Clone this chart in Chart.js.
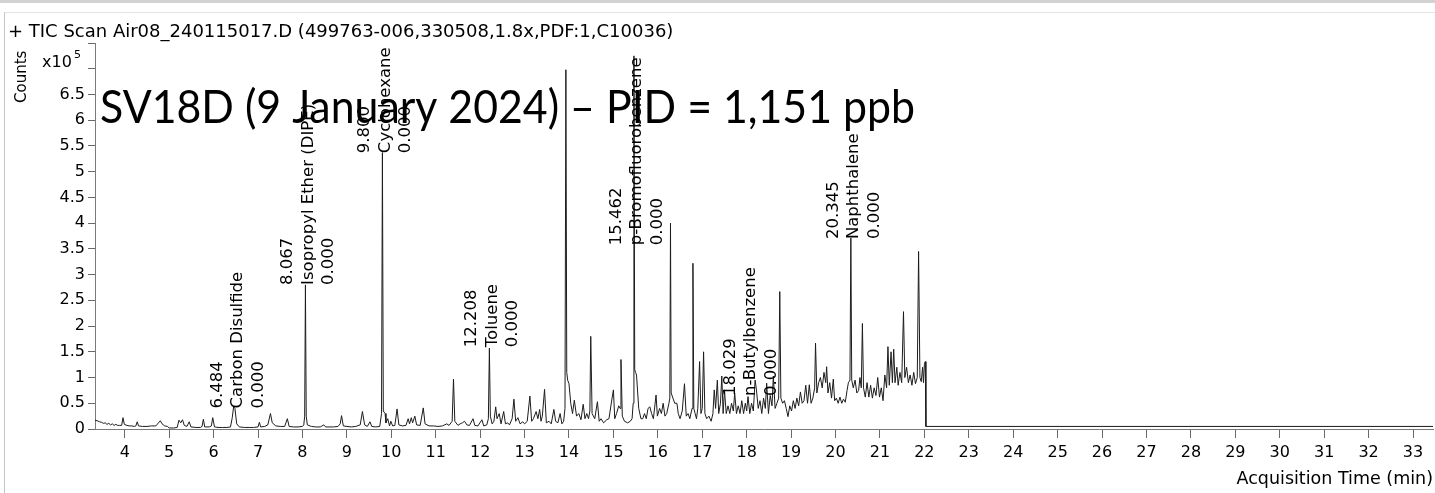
<!DOCTYPE html>
<html>
<head>
<meta charset="utf-8">
<title>TIC Scan Air08_240115017.D</title>
<script src="https://cdn.jsdelivr.net/npm/chart.js@4.4.1/dist/chart.umd.min.js"></script>
<style>
  html, body { margin: 0; padding: 0; background: #fff; }
  #wrap { position: relative; width: 1435px; height: 493px; overflow: hidden; }
  #bandTop { position: absolute; left: 0; top: 0; width: 1435px; height: 3px; background: #d2d2d2; }
  #frame { position: absolute; left: 4px; top: 12px; width: 1440px; height: 490px;
           border-left: 1px solid #c4c4c4; border-top: 1px solid #e2e2e2; }
  #tic { position: absolute; left: 0; top: 0; }
</style>
</head>
<body>
<div id="wrap">
  <div id="bandTop"></div>
  <div id="frame"></div>
  <canvas id="tic" width="1435" height="493"></canvas>
</div>
<script>
// Retention time (min) and TIC counts (x10^5)
const retTime = [
  3.33, 3.38, 3.43, 3.48, 3.52, 3.56, 3.60, 3.64, 3.68, 3.72, 3.76, 3.80, 3.84, 3.88, 3.93, 3.96, 3.99,
  4.05, 4.10, 4.16, 4.22, 4.25, 4.28, 4.31, 4.40, 4.50, 4.60, 4.70, 4.76, 4.80, 4.84, 4.90, 4.96,
  5.00, 5.10, 5.18, 5.22, 5.26, 5.30, 5.34, 5.40, 5.45, 5.49, 5.60, 5.70, 5.74, 5.77, 5.80, 5.90, 5.95, 5.98,
  6.02, 6.10, 6.20, 6.30, 6.38, 6.42, 6.45, 6.48, 6.52, 6.58, 6.70, 6.80, 6.90,
  7.00, 7.03, 7.06, 7.15, 7.22, 7.28, 7.32, 7.40, 7.50, 7.60, 7.66, 7.70, 7.80, 7.90,
  8.00, 8.03, 8.05, 8.067, 8.085, 8.11, 8.20, 8.30, 8.40, 8.48, 8.52, 8.60, 8.70, 8.80, 8.85, 8.88, 8.92,
  9.00, 9.10, 9.20, 9.30, 9.35, 9.40, 9.46, 9.52, 9.56, 9.65, 9.74, 9.78, 9.80, 9.82, 9.86, 9.88, 9.92, 9.96, 9.99,
  10.03, 10.08, 10.13, 10.17, 10.25, 10.33, 10.38, 10.41, 10.45, 10.48, 10.53, 10.57, 10.65, 10.72, 10.76, 10.85, 10.95,
  11.05, 11.15, 11.25, 11.30, 11.37, 11.40, 11.43, 11.50, 11.55, 11.60, 11.65, 11.70, 11.76, 11.84, 11.88, 11.95,
  12.04, 12.08, 12.15, 12.185, 12.208, 12.23, 12.27, 12.31, 12.35, 12.38, 12.43, 12.47, 12.53, 12.57, 12.62, 12.66, 12.72, 12.76, 12.80, 12.85, 12.90, 12.96,
  13.00, 13.06, 13.12, 13.16, 13.20, 13.26, 13.30, 13.34, 13.37, 13.40, 13.45, 13.49, 13.55, 13.60, 13.66, 13.70, 13.75, 13.80, 13.84, 13.88, 13.91, 13.93, 13.95, 13.97,
  14.00, 14.04, 14.08, 14.12, 14.17, 14.22, 14.27, 14.32, 14.36, 14.40, 14.44, 14.47, 14.49, 14.52, 14.58, 14.64, 14.68, 14.72, 14.78, 14.85, 14.90, 14.97,
  15.00, 15.03, 15.07, 15.12, 15.15, 15.17, 15.20, 15.25, 15.32, 15.38, 15.42, 15.445, 15.462, 15.48, 15.50, 15.52, 15.57, 15.62, 15.66, 15.70, 15.74, 15.78, 15.82, 15.86, 15.90, 15.96, 15.99,
  16.04, 16.08, 16.12, 16.16, 16.20, 16.25, 16.27, 16.285, 16.30, 16.34, 16.38, 16.43, 16.46, 16.50, 16.55, 16.60, 16.64, 16.68, 16.72, 16.77, 16.79, 16.81, 16.84, 16.87, 16.90, 16.94, 16.97,
  17.00, 17.03, 17.06, 17.10, 17.15, 17.20, 17.24, 17.27, 17.30, 17.34, 17.37, 17.41, 17.44, 17.47, 17.50, 17.54, 17.58, 17.62, 17.66, 17.70, 17.73, 17.77, 17.81, 17.85, 17.89, 17.93, 17.97,
  18.00, 18.03, 18.07, 18.11, 18.15, 18.19, 18.22, 18.26, 18.30, 18.34, 18.38, 18.42, 18.45, 18.49, 18.53, 18.57, 18.60, 18.64, 18.68, 18.72, 18.745, 18.77, 18.81, 18.85, 18.89, 18.93, 18.97,
  19.01, 19.05, 19.09, 19.13, 19.17, 19.21, 19.25, 19.29, 19.33, 19.37, 19.41, 19.45, 19.49, 19.53, 19.55, 19.58, 19.62, 19.66, 19.70, 19.74, 19.78, 19.80, 19.83, 19.87, 19.91, 19.95, 19.98,
  20.02, 20.06, 20.10, 20.14, 20.18, 20.22, 20.26, 20.29, 20.325, 20.345, 20.365, 20.40, 20.44, 20.48, 20.52, 20.55, 20.58, 20.605, 20.63, 20.67, 20.71, 20.75, 20.79, 20.83, 20.87, 20.91, 20.95, 20.99,
  21.03, 21.07, 21.11, 21.15, 21.18, 21.21, 21.25, 21.28, 21.31, 21.34, 21.38, 21.41, 21.45, 21.49, 21.53, 21.56, 21.60, 21.64, 21.68, 21.72, 21.76, 21.80, 21.84, 21.87, 21.90, 21.93, 21.96, 21.98,
  22.00, 22.02, 22.035, 33.45
];
const tic = [
  0.17, 0.16, 0.14, 0.13, 0.11, 0.12, 0.09, 0.11, 0.08, 0.10, 0.07, 0.09, 0.07, 0.07, 0.07, 0.22, 0.09,
  0.07, 0.06, 0.06, 0.05, 0.06, 0.14, 0.06, 0.05, 0.05, 0.06, 0.06, 0.12, 0.16, 0.10, 0.06, 0.05,
  0.02, 0.02, 0.03, 0.17, 0.12, 0.18, 0.07, 0.05, 0.14, 0.04, 0.03, 0.03, 0.05, 0.19, 0.04, 0.04, 0.06, 0.22,
  0.04, 0.03, 0.03, 0.03, 0.04, 0.22, 0.43, 0.40, 0.10, 0.04, 0.03, 0.03, 0.03,
  0.04, 0.13, 0.04, 0.05, 0.08, 0.30, 0.12, 0.06, 0.05, 0.05, 0.20, 0.05, 0.04, 0.04,
  0.05, 0.08, 0.25, 2.80, 0.25, 0.08, 0.05, 0.04, 0.04, 0.08, 0.04, 0.04, 0.04, 0.05, 0.10, 0.26, 0.06,
  0.05, 0.04, 0.05, 0.08, 0.34, 0.08, 0.05, 0.14, 0.05, 0.04, 0.05, 0.30, 5.37, 0.35, 0.30, 0.12, 0.20, 0.06, 0.15,
  0.06, 0.07, 0.39, 0.08, 0.06, 0.07, 0.20, 0.10, 0.22, 0.12, 0.25, 0.08, 0.07, 0.41, 0.10, 0.06, 0.06,
  0.05, 0.06, 0.10, 0.07, 0.15, 0.97, 0.15, 0.07, 0.10, 0.12, 0.15, 0.08, 0.07, 0.20, 0.07, 0.06,
  0.18, 0.06, 0.08, 0.20, 1.57, 0.25, 0.10, 0.15, 0.43, 0.20, 0.30, 0.10, 0.34, 0.10, 0.12, 0.08, 0.20, 0.58, 0.15, 0.22, 0.10, 0.14,
  0.10, 0.15, 0.64, 0.15, 0.20, 0.34, 0.20, 0.38, 0.15, 0.25, 0.77, 0.12, 0.15, 0.10, 0.38, 0.15, 0.12, 0.30, 0.10, 0.15, 0.40, 6.98, 1.10, 0.95,
  0.88, 0.50, 0.30, 0.56, 0.25, 0.30, 0.18, 0.48, 0.20, 0.30, 0.20, 0.35, 1.80, 0.30, 0.20, 0.53, 0.15, 0.20, 0.12, 0.18, 0.20, 0.60,
  0.76, 0.20, 0.30, 0.45, 0.40, 1.35, 0.25, 0.15, 0.12, 0.15, 0.20, 0.50, 7.25, 1.15, 1.10, 1.05, 0.40, 0.20, 0.20, 0.30, 0.20, 0.40, 0.43, 0.30, 0.20, 0.66, 0.25,
  0.40, 0.30, 0.50, 0.25, 0.30, 0.50, 0.60, 4.00, 0.70, 0.60, 0.50, 0.50, 0.30, 0.20, 0.35, 0.88, 0.25, 0.30, 0.20, 0.40, 3.22, 0.40, 0.30, 0.20, 0.40, 1.31, 0.30,
  0.40, 1.50, 0.30, 0.20, 0.25, 0.15, 0.30, 0.76, 0.40, 0.95, 0.30, 0.50, 1.03, 0.30, 0.76, 0.30, 0.45, 0.30, 0.50, 0.35, 0.70, 0.30, 0.45, 0.30, 0.55, 0.30, 0.50,
  0.35, 0.63, 0.30, 0.50, 0.35, 0.95, 0.76, 0.40, 0.55, 0.30, 0.60, 0.40, 0.89, 0.30, 0.65, 0.45, 1.03, 0.40, 0.50, 0.60, 2.67, 0.60, 0.50, 0.55, 0.40, 0.24, 0.45,
  0.35, 0.55, 0.40, 0.60, 0.45, 0.72, 0.50, 0.55, 0.85, 0.50, 0.86, 0.50, 0.60, 0.80, 1.67, 0.70, 0.90, 1.00, 0.80, 1.10, 0.90, 1.21, 0.70, 0.90, 0.60, 0.97, 0.55,
  0.60, 0.50, 0.62, 0.50, 0.58, 0.52, 0.75, 0.90, 0.95, 3.71, 0.95, 0.80, 0.95, 0.70, 0.75, 1.00, 0.80, 2.05, 0.80, 0.62, 0.90, 0.62, 0.85, 0.60, 0.80, 0.65, 1.00, 0.62,
  0.80, 0.55, 1.05, 0.80, 1.60, 0.85, 1.50, 0.90, 1.55, 0.90, 1.20, 0.85, 1.10, 0.90, 2.28, 1.00, 1.20, 0.90, 1.05, 0.85, 1.10, 0.88, 1.00, 3.45, 1.00, 0.92, 1.20, 0.90,
  1.25, 1.31, 0.05, 0.05
];

// Peak annotations: RT, compound, amount, and where the label starts (x10^5)
const peakRT = ["6.484", "8.067", "9.800", "12.208", "15.462", "18.029", "20.345"];
const peakName = ["Carbon Disulfide", "Isopropyl Ether (DIPE)", "Cyclohexane", "Toluene",
                  "p-Bromofluorobenzene", "n-Butylbenzene", "Naphthalene"];
const peakAmount = ["0.000", "0.000", "0.000", "0.000", "0.000", "0.000", "0.000"];
const peakLabelAt = [0.40, 2.80, 5.36, 1.59, 3.57, 0.64, 3.69];

const xTicks = [4, 5, 6, 7, 8, 9, 10, 11, 12, 13, 14, 15, 16, 17, 18, 19, 20, 21, 22, 23, 24, 25, 26, 27, 28, 29, 30, 31, 32, 33];
const yTicks = [0, 0.5, 1, 1.5, 2, 2.5, 3, 3.5, 4, 4.5, 5, 5.5, 6, 6.5, 7, 7.5];
const yLastLabel = 6.5;

const headerText = "+ TIC Scan Air08_240115017.D (499763-006,330508,1.8x,PDF:1,C10036)";
const overlayText = "SV18D (9 January 2024) \u2013 PID = 1,151 ppb";

const tickFont = { family: "DejaVu Sans", size: 16 };

// Testi extra: intestazione, "Counts", x10^5, etichette dei picchi, riquadro sovrapposto
const chromLabels = {
  id: "chromLabels",
  afterDatasetsDraw(chart) {
    const { ctx, scales: { x, y } } = chart;
    ctx.save();
    ctx.fillStyle = "#000";

    // header
    ctx.font = '18px "DejaVu Sans"';
    ctx.textBaseline = "alphabetic";
    ctx.textAlign = "left";
    ctx.fillText(headerText, 8, 37);

    // x10^5 next to the top of the y axis
    ctx.font = '16px "DejaVu Sans"';
    ctx.fillText("x10", 42, 67);
    ctx.font = '11px "DejaVu Sans"';
    ctx.fillText("5", 74, 58);

    // "Counts", rotated
    ctx.save();
    ctx.font = '15px "DejaVu Sans"';
    ctx.textBaseline = "middle";
    ctx.translate(22, 103);
    ctx.rotate(-Math.PI / 2);
    ctx.fillText("Counts", 0, 0);
    ctx.restore();

    // peak labels, three rotated lines each
    ctx.font = '16.5px "DejaVu Sans"';
    ctx.textBaseline = "middle";
    peakRT.forEach((rt, i) => {
      const px = x.getPixelForValue(parseFloat(rt)) + 3;
      const py = y.getPixelForValue(peakLabelAt[i]);
      [rt, peakName[i], peakAmount[i]].forEach((txt, j) => {
        ctx.save();
        ctx.translate(px + (j - 1) * 20.5, py);
        ctx.rotate(-Math.PI / 2);
        ctx.fillText(txt, 0, 0);
        ctx.restore();
      });
    });

    // big pasted caption
    ctx.font = '46px Lato';
    ctx.textBaseline = "alphabetic";
    const w = ctx.measureText(overlayText).width;
    ctx.translate(100, 123);
    ctx.scale(815 / w, 1);
    ctx.fillText(overlayText, 0, 0);
    ctx.restore();
  }
};

const ctx = document.getElementById("tic").getContext("2d");
const ticChart = new Chart(ctx, {
  type: "line",
  data: {
    datasets: [{
      label: "TIC",
      data: retTime.map((t, i) => ({ x: t, y: tic[i] })),
      borderColor: "#1c1c1c",
      borderWidth: 1,
      pointRadius: 0,
      tension: 0,
      fill: false
    }]
  },
  options: {
    responsive: false,
    devicePixelRatio: 1,
    animation: false,
    layout: { padding: { left: 8, top: 43, right: 2, bottom: 0 } },
    plugins: {
      legend: { display: false },
      tooltip: { enabled: false },
      title: { display: false }
    },
    scales: {
      x: {
        type: "linear",
        min: 3.33,
        max: 33.45,
        afterBuildTicks: (s) => { s.ticks = xTicks.map(v => ({ value: v })); },
        afterFit: (s) => { s.height = 64; },
        grid: { drawOnChartArea: false, drawTicks: true, tickLength: 9, color: "#6a6a6a" },
        border: { display: true, color: "#7a7a7a", width: 1 },
        ticks: {
          autoSkip: false, maxRotation: 0, padding: 5, color: "#000", font: tickFont,
          callback: (v) => String(v)
        },
        title: {
          display: true, text: "Acquisition Time (min)", align: "end", color: "#000",
          font: { family: "DejaVu Sans", size: 17.5 }, padding: { top: 0, bottom: 3 }
        }
      },
      y: {
        type: "linear",
        min: 0,
        max: 7.5,
        afterBuildTicks: (s) => { s.ticks = yTicks.map(v => ({ value: v })); },
        afterFit: (s) => { s.width = 87; },
        grid: { drawOnChartArea: false, drawTicks: true, tickLength: 7, color: "#6a6a6a" },
        border: { display: true, color: "#7a7a7a", width: 1 },
        ticks: {
          padding: 3, color: "#000", font: tickFont,
          callback: (v) => (v <= yLastLabel ? String(v) : "")
        }
      }
    }
  },
  plugins: [chromLabels]
});
</script>
</body>
</html>
